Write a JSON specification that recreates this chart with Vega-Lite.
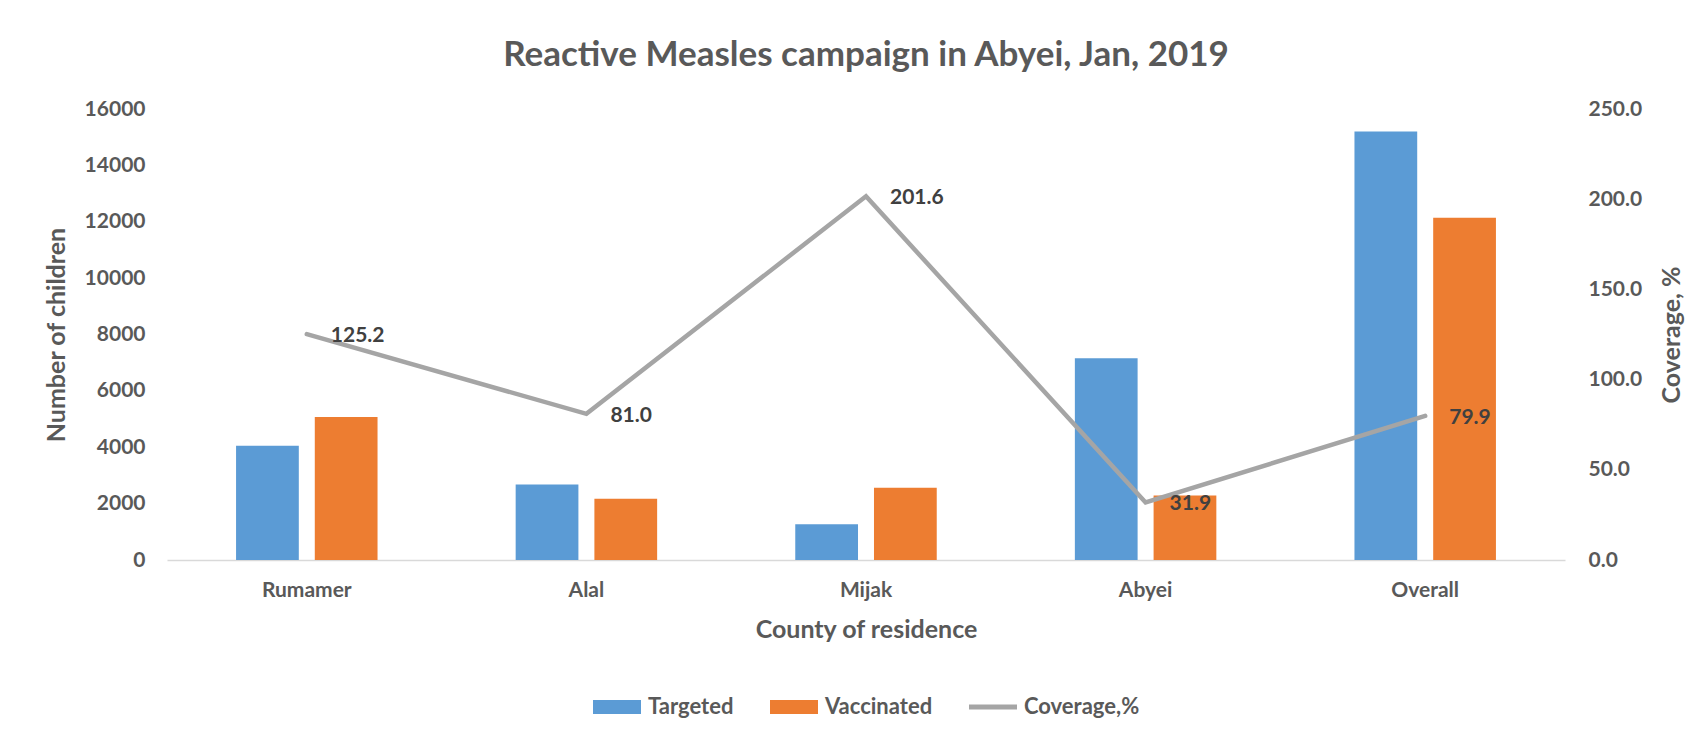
{
  "$schema": "https://vega.github.io/schema/vega-lite/v6.json",
  "width": 1398,
  "height": 451,
  "autosize": {"type": "none"},
  "padding": {"left": 167, "top": 109, "right": 131, "bottom": 174},
  "background": "white",
  "title": {
    "text": "Reactive Measles campaign in Abyei, Jan, 2019",
    "font": "Lato",
    "fontSize": 35,
    "fontWeight": "bold",
    "color": "#595959",
    "anchor": "middle",
    "offset": 25
  },
  "datasets": {
    "bars": [
      {"county": "Rumamer", "series": "Targeted", "value": 4050},
      {"county": "Rumamer", "series": "Vaccinated", "value": 5070},
      {"county": "Alal", "series": "Targeted", "value": 2680},
      {"county": "Alal", "series": "Vaccinated", "value": 2170},
      {"county": "Mijak", "series": "Targeted", "value": 1270},
      {"county": "Mijak", "series": "Vaccinated", "value": 2560},
      {"county": "Abyei", "series": "Targeted", "value": 7160},
      {"county": "Abyei", "series": "Vaccinated", "value": 2285},
      {"county": "Overall", "series": "Targeted", "value": 15200},
      {"county": "Overall", "series": "Vaccinated", "value": 12140}
    ],
    "coverage": [
      {"county": "Rumamer", "series": "Coverage,%", "coverage": 125.2},
      {"county": "Alal", "series": "Coverage,%", "coverage": 81.0},
      {"county": "Mijak", "series": "Coverage,%", "coverage": 201.6},
      {"county": "Abyei", "series": "Coverage,%", "coverage": 31.9},
      {"county": "Overall", "series": "Coverage,%", "coverage": 79.9}
    ]
  },
  "config": {
    "font": "Lato",
    "view": {"stroke": null},
    "axis": {
      "labelFont": "Lato",
      "labelFontWeight": "bold",
      "labelColor": "#595959",
      "labelFontSize": 21,
      "titleFont": "Lato",
      "titleFontWeight": "bold",
      "titleColor": "#595959",
      "titleFontSize": 25,
      "ticks": false,
      "grid": false,
      "domain": false
    },
    "legend": {
      "layout": {"bottom": {"anchor": "middle"}}
    }
  },
  "layer": [
    {
      "data": {"name": "bars"},
      "mark": {"type": "bar"},
      "encoding": {
        "x": {
          "field": "county", "type": "nominal", "sort": null,
          "scale": {"paddingInner": 0.494, "paddingOuter": 0.247},
          "axis": {"title": "County of residence", "labelAngle": 0, "domain": true, "domainColor": "#D9D9D9", "domainWidth": 1.5, "labelPadding": 19, "titlePadding": 17}
        },
        "xOffset": {
          "field": "series", "type": "nominal", "sort": ["Targeted", "Vaccinated"],
          "scale": {"paddingInner": 0.203, "paddingOuter": 0}
        },
        "y": {
          "field": "value", "type": "quantitative",
          "scale": {"domain": [0, 16000], "nice": false},
          "axis": {"title": "Number of children", "format": "d", "values": [0, 2000, 4000, 6000, 8000, 10000, 12000, 14000, 16000], "labelPadding": 22, "titlePadding": 15}
        },
        "color": {
          "field": "series", "type": "nominal",
          "scale": {"domain": ["Targeted", "Vaccinated", "Coverage,%"], "range": ["#5B9BD5", "#ED7D31", "#A5A5A5"]},
          "legend": {
            "title": null,
            "orient": "bottom",
            "direction": "horizontal",
            "offset": 41,
            "labelFont": "Lato",
            "labelFontSize": 22,
            "labelFontWeight": "bold",
            "labelColor": "#595959",
            "labelOffset": 7,
            "columnPadding": 36,
            "symbolSize": 2304,
            "symbolType": "M-1,-0.29H1V0.29H-1Z",
            "encode": {
              "symbols": {
                "update": {
                  "shape": {"signal": "datum.value === 'Coverage,%' ? 'M-1,-0.1H1V0.1H-1Z' : 'M-1,-0.29H1V0.29H-1Z'"},
                  "fill": {"scale": "color", "field": "value"},
                  "stroke": {"value": "transparent"},
                  "strokeWidth": {"value": 0},
                  "opacity": {"value": 1}
                }
              }
            }
          }
        }
      }
    },
    {
      "data": {"name": "coverage"},
      "layer": [
        {
          "mark": {"type": "line", "strokeWidth": 4.5, "strokeCap": "round", "strokeJoin": "miter"},
          "encoding": {
            "x": {"field": "county", "type": "nominal", "sort": null, "axis": {"title": "County of residence"}},
            "y": {
              "field": "coverage", "type": "quantitative",
              "scale": {"domain": [0, 250], "nice": false},
              "axis": {"orient": "right", "title": "Coverage, %", "titleAngle": 270, "format": ".1f", "values": [0, 50, 100, 150, 200, 250], "labelPadding": 23, "titlePadding": 43}
            },
            "color": {"field": "series", "type": "nominal"}
          }
        },
        {
          "mark": {"type": "text", "align": "left", "baseline": "middle", "dx": 24, "dy": 2, "font": "Lato", "fontSize": 21, "fontWeight": "bold", "color": "#404040"},
          "encoding": {
            "x": {"field": "county", "type": "nominal", "sort": null, "axis": {"title": "County of residence"}},
            "y": {"field": "coverage", "type": "quantitative", "axis": {"orient": "right", "title": "Coverage, %"}},
            "text": {"field": "coverage", "type": "quantitative", "format": ".1f"}
          }
        }
      ]
    }
  ],
  "resolve": {"scale": {"y": "independent"}}
}
